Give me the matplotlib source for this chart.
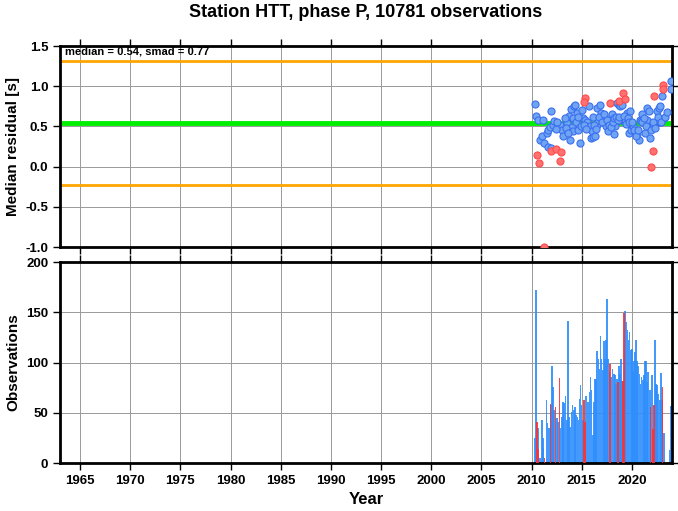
import numpy as np
import matplotlib
matplotlib.use("Agg")
import matplotlib.pyplot as plt

plt.rcParams['font.family'] = ['Liberation Sans', 'DejaVu Sans']
plt.rcParams['font.weight'] = 'bold'

# residual points (year, median residual)
blue_year = [2010.33, 2010.43, 2010.67, 2011.10, 2010.83, 2011.00, 2011.23, 2011.50, 2011.67,
             2011.83, 2011.60, 2011.90, 2011.90, 2012.17, 2012.23, 2012.67, 2012.83, 2013.00,
             2013.17, 2013.50, 2013.77, 2013.90, 2014.00, 2014.17, 2013.83, 2014.23, 2014.33,
             2014.50, 2014.67, 2014.83, 2015.00, 2015.10, 2015.33, 2015.57, 2015.70, 2015.83,
             2016.00, 2015.90, 2016.17, 2016.33, 2016.50, 2016.67, 2016.57, 2016.83, 2016.93,
             2017.17, 2017.33, 2017.43, 2017.57, 2017.83, 2018.00, 2018.17, 2018.33, 2018.50,
             2018.67, 2018.83, 2019.00, 2018.83, 2019.10, 2019.33, 2019.50, 2019.67, 2019.83,
             2019.90, 2020.10, 2020.33, 2020.50, 2020.67, 2020.77, 2021.00, 2021.17, 2021.33,
             2021.50, 2021.67, 2021.50, 2021.77, 2022.00, 2022.23, 2022.50, 2022.67, 2022.83,
             2022.77, 2023.00, 2023.17, 2023.90, 2023.90,
             2012.40, 2012.55, 2013.30, 2013.40, 2013.60, 2014.10, 2014.40, 2014.60, 2014.90,
             2015.20, 2015.45, 2016.10, 2016.25, 2016.40, 2016.75, 2017.00, 2017.25,
             2017.50, 2017.70, 2017.95, 2018.10, 2018.25, 2018.40, 2018.60, 2018.75, 2019.20,
             2019.40, 2019.60, 2019.75, 2020.00, 2020.20, 2020.40, 2020.60, 2020.90, 2021.05,
             2021.25, 2021.40, 2021.90, 2022.10, 2022.35, 2022.60, 2022.90, 2023.30, 2023.50]
blue_res = [0.78, 0.63, 0.58, 0.58, 0.33, 0.375, 0.29, 0.42, 0.46,
            0.49, 0.24, 0.23, 0.69, 0.52, 0.57, 0.51, 0.52, 0.46,
            0.375, 0.54, 0.63, 0.72, 0.49, 0.44, 0.33, 0.75, 0.77,
            0.67, 0.46, 0.29, 0.71, 0.60, 0.58, 0.56, 0.76, 0.50,
            0.44, 0.35, 0.37, 0.375, 0.52, 0.58, 0.73, 0.77, 0.67,
            0.625, 0.54, 0.50, 0.44, 0.58, 0.65, 0.40, 0.50, 0.79,
            0.77, 0.75, 0.77, 0.58, 0.58, 0.58, 0.67, 0.42, 0.69,
            0.46, 0.50, 0.44, 0.40, 0.33, 0.58, 0.65, 0.56, 0.42,
            0.73, 0.69, 0.58, 0.35, 0.52, 0.50, 0.69, 0.73, 0.75,
            0.56, 0.88, 0.60, 1.06, 0.97,
            0.47, 0.56, 0.60, 0.48, 0.42, 0.60, 0.55, 0.62, 0.50,
            0.52, 0.47, 0.62, 0.52, 0.47, 0.62, 0.55, 0.66,
            0.58, 0.52, 0.49, 0.55, 0.60, 0.62, 0.58, 0.62, 0.63,
            0.53, 0.60, 0.55, 0.55, 0.45, 0.38, 0.45, 0.57, 0.55,
            0.60, 0.50, 0.45, 0.55, 0.48, 0.62, 0.55, 0.62, 0.68]

red_year = [2010.50, 2010.70, 2011.27, 2011.93, 2012.40, 2012.90, 2012.83, 2015.33, 2015.27,
            2017.83, 2018.73, 2019.07, 2019.27, 2022.17, 2022.10, 2021.87, 2023.07, 2023.13]
red_res = [0.15, 0.05, -1.0, 0.19, 0.22, 0.18, 0.07, 0.85, 0.80,
           0.79, 0.82, 0.92, 0.84, 0.88, 0.20, 0.0, 1.01, 0.97]

median = 0.54
smad = 0.77

# monthly observation counts
bar_year = [2010.33, 2010.43, 2010.63, 2010.87, 2011.03, 2011.13, 2011.20, 2011.50, 2011.60,
            2011.73, 2011.97, 2012.07, 2012.17, 2012.27, 2012.50, 2012.63, 2012.87, 2013.00,
            2013.10, 2013.23, 2013.37, 2013.50, 2013.60, 2013.73, 2013.83, 2013.97, 2014.07,
            2014.20, 2014.33, 2014.43, 2014.57, 2014.67, 2014.77, 2014.87, 2014.97, 2015.10,
            2015.43, 2015.57, 2015.67, 2015.77, 2015.87, 2015.97, 2016.10, 2016.23, 2016.33,
            2016.43, 2016.53, 2016.67, 2016.77, 2016.87, 2016.97, 2017.10, 2017.20, 2017.30,
            2017.43, 2017.53, 2017.63, 2017.77, 2017.93, 2018.07, 2018.20, 2018.30, 2018.40,
            2018.53, 2018.73, 2018.83, 2018.93, 2019.03, 2019.33, 2019.43, 2019.57, 2019.67,
            2019.77, 2019.90, 2020.00, 2020.10, 2020.20, 2020.30, 2020.43, 2020.53, 2020.63,
            2020.77, 2020.87, 2020.97, 2021.10, 2021.20, 2021.30, 2021.43, 2021.53, 2021.63,
            2021.77, 2021.97, 2022.30, 2022.40, 2022.53, 2022.63, 2022.77, 2022.87, 2022.97,
            2023.20, 2023.83, 2023.93]
bar_count = [25, 172, 35, 5, 43, 25, 15, 63, 40,
             35, 58, 97, 76, 53, 45, 41, 35, 46,
             61, 60, 67, 43, 141, 46, 36, 51, 58,
             53, 56, 48, 46, 43, 64, 78, 58, 43,
             67, 61, 61, 71, 86, 73, 28, 61, 84,
             84, 111, 104, 94, 126, 104, 93, 121, 104,
             122, 163, 104, 91, 86, 94, 89, 88, 79,
             84, 97, 89, 104, 82, 151, 140, 132, 122,
             130, 112, 113, 92, 102, 110, 122, 102, 97,
             89, 79, 86, 83, 88, 102, 102, 81, 91,
             73, 88, 122, 79, 78, 69, 63, 90, 63,
             30, 13, 57]

red_bar_year = [2010.53, 2010.70, 2011.30, 2011.90, 2012.40, 2012.77, 2015.23, 2015.33,
                2017.83, 2018.63, 2019.10, 2019.23, 2021.87, 2022.10, 2022.20, 2023.07]
red_bar_count = [41, 14, 5, 59, 56, 85, 63, 41,
                 99, 81, 82, 149, 56, 34, 58, 76]

fig = plt.figure(figsize=(6.78, 5.11), dpi=100)
ax1 = fig.add_axes([0.0885, 0.5166, 0.9027, 0.3933])
ax2 = fig.add_axes([0.0885, 0.0939, 0.9027, 0.3933])

for ax in (ax1, ax2):
    ax.set_xlim(1963, 2024)
    ax.set_xticks(np.arange(1965, 2021, 5))
    ax.grid(True, color='#999999', linewidth=0.7)
    ax.set_axisbelow(True)
    for s in ax.spines.values():
        s.set_linewidth(2)
    ax.tick_params(axis='x', direction='out', length=5, width=1, top=True, labelsize=9.5)
    ax.tick_params(axis='y', direction='out', length=5, width=1, labelsize=9.5)
    ax.tick_params(axis='y', which='major', right=True)

# top panel
ax1.axhline(median, color='#00ee00', linewidth=3.5, zorder=2)
ax1.axhline(median + smad, color='#ffa500', linewidth=2, zorder=2)
ax1.axhline(median - smad, color='#ffa500', linewidth=2, zorder=2)
ax1.scatter(blue_year, blue_res, s=26, facecolor='#6fa4f2', edgecolor='#3a6ff0',
            linewidth=0.8, zorder=3)
ax1.scatter(red_year, red_res, s=26, facecolor='#ff7070', edgecolor='#ff4a4a',
            linewidth=0.8, zorder=4)
ax1.set_ylim(-1.0, 1.5)
ax1.set_yticks(np.arange(-1.0, 1.51, 0.5))
ax1.set_yticklabels([f"{v:.1f}" for v in np.arange(-1.0, 1.51, 0.5)])
ax1.tick_params(axis='x', labelbottom=False)
ax1.set_ylabel("Median residual [s]", fontsize=11, fontweight='bold')
ax1.text(0.008, 0.975, f"median = {median:.2f}, smad = {smad:.2f}",
         transform=ax1.transAxes, fontsize=8, fontweight='bold', va='center', ha='left')
ax1.set_title("Station HTT, phase P, 10781 observations", fontsize=13,
              fontweight='bold', pad=21)

# bottom panel
ax2.bar(bar_year, bar_count, width=0.17, color='#2e8efc', alpha=0.9,
        linewidth=0, zorder=2)
ax2.bar(red_bar_year, red_bar_count, width=0.15, color='#ff3030', alpha=0.9,
        linewidth=0, zorder=3)
ax2.set_ylim(0, 200)
ax2.set_yticks(np.arange(0, 201, 50))
ax2.set_ylabel("Observations", fontsize=11, fontweight='bold')
ax2.set_xlabel("Year", fontsize=12, fontweight='bold', labelpad=4)

fig.savefig("out.png", dpi=100)
